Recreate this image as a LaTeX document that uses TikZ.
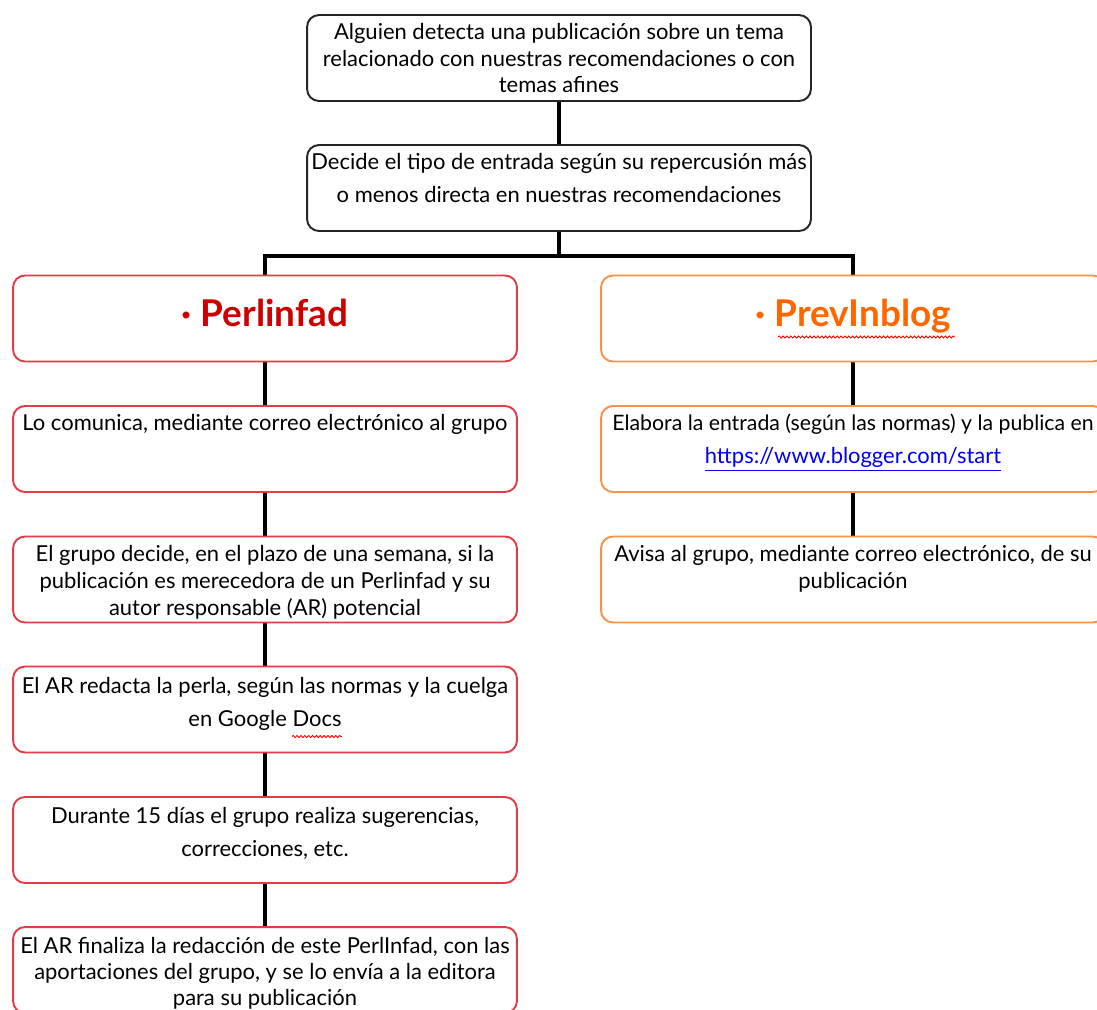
\documentclass[tikz,border=0pt]{standalone}
\usepackage{fontspec}
\setmainfont{Lato}
\usetikzlibrary{backgrounds,decorations.pathmorphing}
\pgfdeclarelayer{edgelayer}
\pgfdeclarelayer{nodelayer}
\pgfsetlayers{edgelayer,nodelayer,main}
\definecolor{perlred}{RGB}{204,0,0}
\definecolor{perlborder}{RGB}{228,60,70}
\definecolor{prevorange}{RGB}{255,102,0}
\definecolor{prevborder}{RGB}{247,146,70}
\definecolor{linkblue}{RGB}{0,0,238}
\tikzset{font=\fontsize{12.5}{15}\selectfont}
\tikzstyle{none}=[inner sep=0pt]
\tikzstyle{blackbox}=[rectangle,rounded corners=6.8pt,draw=black!85,line width=1.1pt,fill=white,inner sep=0pt,minimum width=10.08cm,minimum height=1.72cm]
\tikzstyle{redbox}=[blackbox,draw=perlborder]
\tikzstyle{orangebox}=[blackbox,draw=prevborder]
\tikzstyle{conn}=[line width=2.7pt,line cap=rect]
\tikzstyle{wavy}=[draw=red,line width=0.5pt,decorate,decoration={snake,amplitude=0.6pt,segment length=2.2pt}]
% box text: baselineskip, first baseline, lines
\newcommand{\boxtext}[3]{\parbox[c][1.72cm][t]{10.08cm}{\centering\baselineskip=#1\relax\rule{0pt}{#2}#3\par}}
\newcommand{\headtext}[2]{\boxtext{20pt}{28.9pt}{\fontsize{21}{24}\selectfont\bfseries\color{#1}#2}}

\begin{document}
\begin{tikzpicture}[x=0.02cm,y=-0.02cm]
	\useasboundingbox (0,0) rectangle (1097,1009);
	\begin{pgfonlayer}{nodelayer}
		\node [style=blackbox] (0) at (559, 58) {\boxtext{15pt}{14.2pt}{Alguien detecta una publicación sobre un tema\\relacionado con nuestras recomendaciones o con\\temas afines}};
		\node [style=blackbox] (1) at (559, 188) {\boxtext{18.7pt}{14.2pt}{Decide el tipo de entrada según su repercusión más\\o menos directa en nuestras recomendaciones}};
		\node [style=redbox] (2) at (265, 318.5) {\headtext{perlred}{· Perlinfad}};
		\node [style=orangebox] (3) at (853, 318.5) {\headtext{prevorange}{· PrevInblog}};
		\node [style=redbox] (4) at (265, 449) {\boxtext{15pt}{14.2pt}{Lo comunica, mediante correo electrónico al grupo}};
		\node [style=redbox] (5) at (265, 579.5) {\boxtext{15.3pt}{14.2pt}{El grupo decide, en el plazo de una semana, si la\\publicación es merecedora de un Perlinfad y su\\autor responsable (AR) potencial}};
		\node [style=redbox] (6) at (265, 709.5) {\boxtext{18.7pt}{15.3pt}{El AR redacta la perla, según las normas y la cuelga\\en Google Docs}};
		\node [style=redbox] (7) at (265, 840) {\boxtext{18.7pt}{15.3pt}{Durante 15 días el grupo realiza sugerencias,\\correcciones, etc.}};
		\node [style=redbox] (8) at (265, 970) {\boxtext{14.7pt}{15.3pt}{El AR finaliza la redacción de este PerlInfad, con las\\aportaciones del grupo, y se lo envía a la editora\\para su publicación}};
		\node [style=orangebox] (9) at (853, 449) {\boxtext{18.7pt}{14.2pt}{{\fontsize{12.1}{15}\selectfont Elabora la entrada (según las normas) y la publica en}\\\textcolor{linkblue}{\underline{https://www.blogger.com/start}}}};
		\node [style=orangebox] (10) at (853, 579.5) {\boxtext{15.3pt}{14.2pt}{Avisa al grupo, mediante correo electrónico, de su\\publicación}};
		\node [style=none] (11) at (559, 256) {};
		\node [style=none] (12) at (265, 256) {};
		\node [style=none] (13) at (853, 256) {};
	\end{pgfonlayer}
	\begin{pgfonlayer}{edgelayer}
		\draw[style=conn] (0.center) to (1.center) to (11.center);
		\draw[style=conn] (2.center) to (12.center) to (13.center) to (3.center);
		\draw[style=conn] (2.center) to (4.center) to (5.center) to (6.center) to (7.center) to (8.center);
		\draw[style=conn] (3.center) to (9.center) to (10.center);
	\end{pgfonlayer}
	% spelling marks
	\draw[style=wavy] ([shift={(-75,18.5)}]3.center) -- ([shift={(102,18.5)}]3.center);
	\draw[style=wavy] ([shift={(27,27)}]6.center) -- ([shift={(77,27)}]6.center);
\end{tikzpicture}
\end{document}
